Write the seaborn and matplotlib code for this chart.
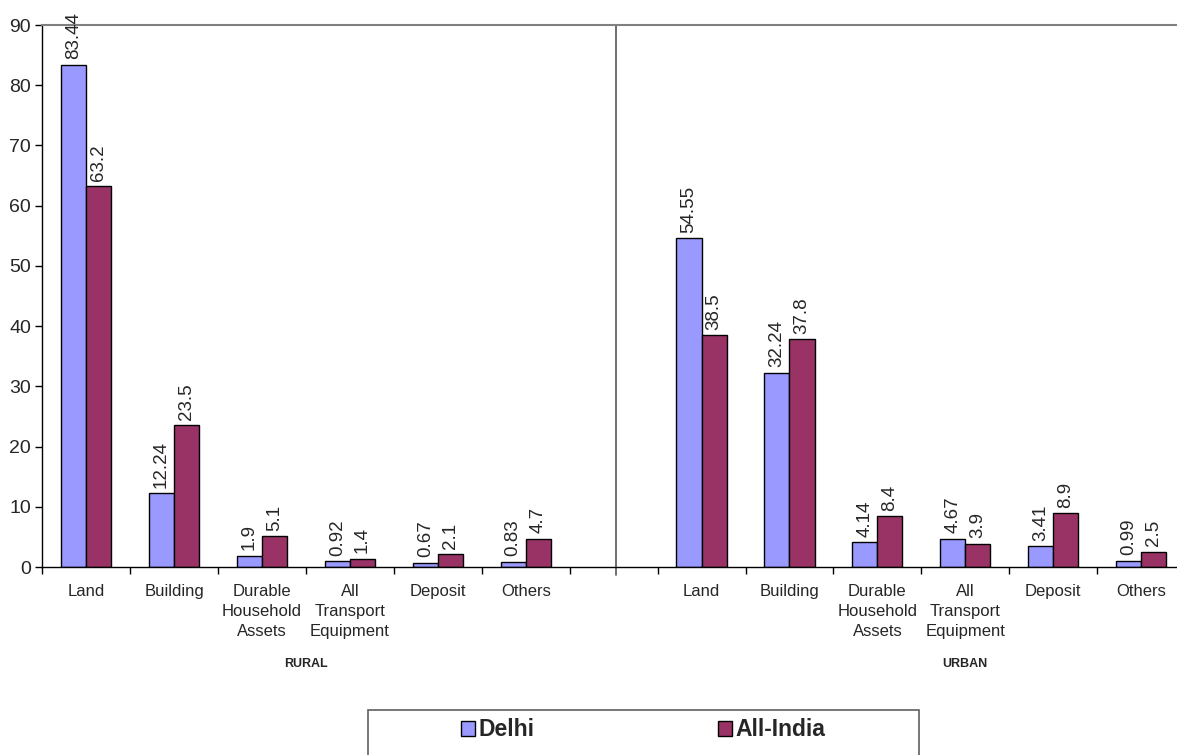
import matplotlib
matplotlib.use("Agg")
import matplotlib.pyplot as plt
import matplotlib.patches as mpatches
from matplotlib.transforms import blended_transform_factory
import seaborn as sns
import pandas as pd

# Asset categories (same list for both sectors)
categories = ["Land", "Building", "Durable\nHousehold\nAssets",
              "All\nTransport\nEquipment", "Deposit", "Others"]
sectors = ["RURAL", "URBAN"]
series = ["Delhi", "All-India"]

# Percentage share of assets
delhi_rural = [83.44, 12.24, 1.9, 0.92, 0.67, 0.83]
india_rural = [63.2, 23.5, 5.1, 1.4, 2.1, 4.7]
delhi_urban = [54.55, 32.24, 4.14, 4.67, 3.41, 0.99]
india_urban = [38.5, 37.8, 8.4, 3.9, 8.9, 2.5]

y_ticks = [0, 10, 20, 30, 40, 50, 60, 70, 80, 90]

colors = {"Delhi": "#9999FF", "All-India": "#993366"}

# Long-form table; a blank slot separates the two sectors
rows = []
for sector, d_vals, i_vals in [("RURAL", delhi_rural, india_rural),
                               ("URBAN", delhi_urban, india_urban)]:
    for cat, dv, iv in zip(categories, d_vals, i_vals):
        key = f"{sector}|{cat}"
        rows.append({"slot": key, "series": "Delhi", "value": dv})
        rows.append({"slot": key, "series": "All-India", "value": iv})
df = pd.DataFrame(rows)

gap_key = "gap"
order = ([f"RURAL|{c}" for c in categories] + [gap_key] +
         [f"URBAN|{c}" for c in categories])

sns.set_style("white")
plt.rcParams["font.family"] = ["Liberation Sans", "DejaVu Sans"]

fig = plt.figure(figsize=(11.77, 7.55), dpi=100)
left_px, right_px, top_px, bottom_px = 42.3, 1185.0, 25.0, 567.0
W, H = 1177.0, 755.0
ax = fig.add_axes([left_px / W, (H - bottom_px) / H,
                   (right_px - left_px) / W, (bottom_px - top_px) / H])

sns.barplot(data=df, x="slot", y="value", hue="series", order=order,
            hue_order=series, palette=colors, width=0.57,
            edgecolor="black", linewidth=1.0, saturation=1.0,
            legend=False, ax=ax)

# Value labels above bars
for cont in ax.containers:
    ax.bar_label(cont, fmt="{:g}", rotation=90, padding=4, fontsize=13.5)

n = len(order)
ax.set_xlim(-0.5, n - 0.5)
ax.set_ylim(0, 90)
ax.set_yticks(y_ticks)
ax.set_yticklabels([str(v) for v in y_ticks], fontsize=14)
ax.set_xlabel("")
ax.set_ylabel("")

# Category labels at slot centres, tick marks at slot boundaries
label_pos = [i for i, k in enumerate(order) if k != gap_key]
ax.set_xticks(label_pos)
ax.set_xticklabels([order[i].split("|")[1] for i in label_pos],
                   fontsize=12, linespacing=1.45)
ax.set_xticks([i - 0.5 for i in range(n + 1)], minor=True)
ax.tick_params(axis="x", which="major", length=0, pad=12)
ax.tick_params(axis="x", which="minor", length=5, width=1, color="black",
               direction="out", bottom=True)
ax.tick_params(axis="y", which="major", length=5, width=1, color="black",
               direction="out", left=True, pad=3)

for s in ["left", "bottom"]:
    ax.spines[s].set_color("black")
    ax.spines[s].set_linewidth(1)
ax.spines["top"].set_color("#808080")
ax.spines["top"].set_linewidth(1.5)
ax.spines["right"].set_visible(False)

# Divider between the two sectors
gap_idx = order.index(gap_key)
ax.axvline(gap_idx + 0.03, ymin=-0.014, ymax=1, color="#555555",
           linewidth=1.2, clip_on=False)

# Sector labels
trans = blended_transform_factory(ax.transData, fig.transFigure)
rural_center = (label_pos[0] + label_pos[5]) / 2
sector_y = (H - 664) / H
ax.text(rural_center, sector_y, sectors[0], transform=trans,
        ha="center", va="center", fontsize=9, fontweight="bold")
ax.text(10.0, sector_y, sectors[1], transform=trans,
        ha="center", va="center", fontsize=9, fontweight="bold")

# Legend with its box
box = mpatches.Rectangle((368 / W, -20 / H), (919 - 368) / W, (H - 710 + 20) / H,
                         transform=fig.transFigure, facecolor="white",
                         edgecolor="#606060", linewidth=1.2)
fig.patches.append(box)
handles = [mpatches.Patch(facecolor=colors[s], edgecolor="black",
                          linewidth=1.0, label=s) for s in series]
fig.legend(handles=handles, ncol=2, frameon=False, loc="center left",
           bbox_to_anchor=(461 / W, (H - 730) / H),
           prop={"size": 16.5, "weight": "bold"}, handlelength=0.62,
           handleheight=0.62, handletextpad=0.15, columnspacing=8.0,
           borderpad=0, borderaxespad=0)

fig.savefig("out.png", dpi=100)
